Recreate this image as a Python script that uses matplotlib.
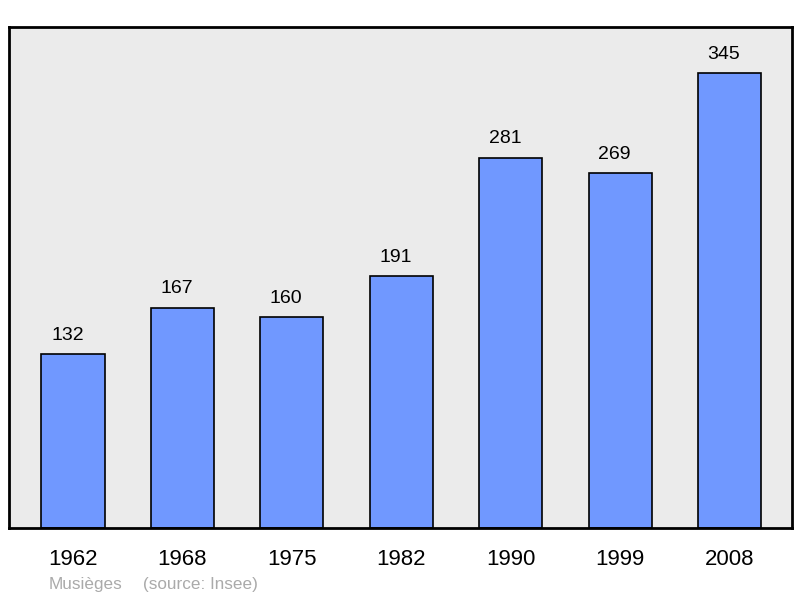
import numpy as np
import matplotlib.pyplot as plt

plt.rcParams['font.family'] = ['Liberation Sans', 'DejaVu Sans']

years = ['1962', '1968', '1975', '1982', '1990', '1999', '2008']
population = [132, 167, 160, 191, 281, 269, 345]

fig = plt.figure(figsize=(8, 5.98), dpi=100)
ax = fig.add_axes([9/800, 70/598, 783/800, 501/598])
ax.set_facecolor('#ebebeb')

x = np.arange(len(years))
ax.bar(x, population, width=0.576, color='#7098ff', edgecolor='black', linewidth=1.2, zorder=2)
for xi, v in zip(x, population):
    ax.annotate(str(v), (xi, v), xytext=(-4, 10.4), textcoords='offset points',
                ha='center', va='baseline', fontsize=14)

# year labels below the axis
for xi, y in zip(x, years):
    ax.text(xi, -37/501, y, transform=ax.get_xaxis_transform(),
            ha='center', va='baseline', fontsize=16)

ax.set_xlim(-0.585, 6.571)
ax.set_ylim(0, 380)
ax.set_xticks([])
ax.set_yticks([])
for s in ax.spines.values():
    s.set_linewidth(2)

fig.text(49/800, 9/598, 'Musièges', color='#aaaaaa', fontsize=12.3, va='baseline')
fig.text(143/800, 9/598, '(source: Insee)', color='#aaaaaa', fontsize=12.3, va='baseline')

fig.savefig('out.png', dpi=100)
